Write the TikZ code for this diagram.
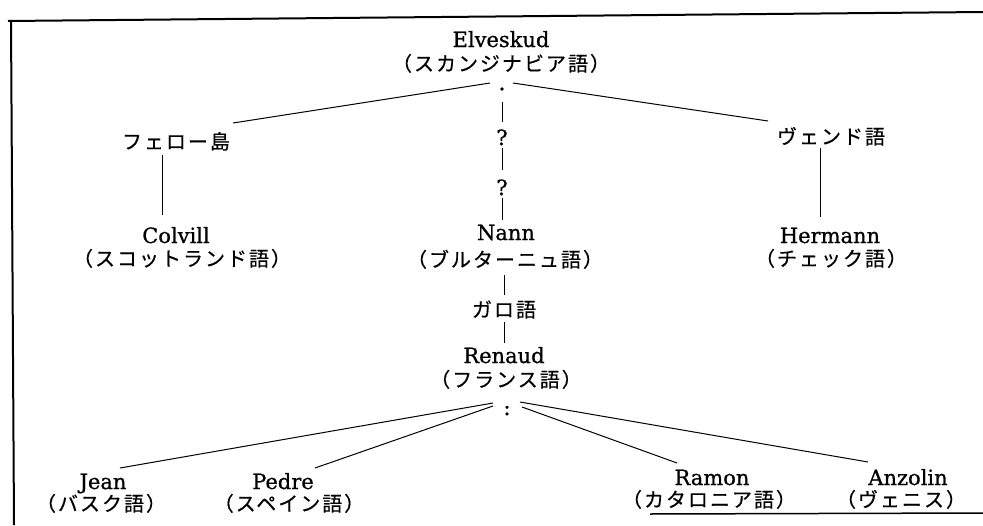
\documentclass[tikz,border=0pt]{standalone}
\usepackage{fontspec}
\newfontfamily\jp{Noto Sans CJK JP}[LetterSpace=10,FakeBold=0.5]
\newfontfamily\nm{DejaVu Serif}[FakeBold=0.8]
\usetikzlibrary{calc}
\begin{document}
\begin{tikzpicture}[x=1pt,y=-1pt,
  namelabel/.style={font=\nm\fontsize{21}{24}\selectfont, inner sep=0pt, anchor=base},
  langlabel/.style={font=\jp\fontsize{20}{24}\selectfont, inner sep=0pt, anchor=base},
  dotmark/.style={circle, fill, inner sep=0pt, minimum size=3.6pt},
  linkline/.style={line width=1pt},
  borderline/.style={line width=2pt}]
\useasboundingbox (0,0) rectangle (983,525);

% page frame (top and left rules, short rule at bottom right)
\draw[borderline] (8,21) -- (983,12);
\draw[borderline] (11,20) -- (14,525);
\draw[line width=1.5pt] (650,514) -- (983,513);

% labels
\node[namelabel] (elv) at (501,47) {Elveskud};
\node[langlabel] (elvL) at (501,71) {（スカンジナビア語）};
\node[dotmark] (dot) at (502,89) {};
\node[namelabel] (q1) at (502,145) {?};
\node[namelabel] (q2) at (502,195) {?};
\node[langlabel] (fero) at (176,149) {フェロー島};
\node[langlabel] (wend) at (831,144) {ヴェンド語};
\node[namelabel] (col) at (176,243) {Colvill};
\node[langlabel] (colL) at (182,266) {（スコットランド語）};
\node[namelabel] (nann) at (506,240) {Nann};
\node[langlabel] (nannL) at (505,267) {（ブルターニュ語）};
\node[namelabel] (her) at (830,243) {Hermann};
\node[langlabel] (herL) at (831,266) {（チェック語）};
\node[langlabel] (garo) at (504,317) {ガロ語};
\node[namelabel] (ren) at (504,363) {Renaud};
\node[langlabel] (renL) at (506,387) {（フランス語）};
\node[namelabel] (colon) at (507,415) {:};
\node[namelabel] (jean) at (103,489) {Jean};
\node[langlabel] (jeanL) at (101,511) {（バスク語）};
\node[namelabel] (ped) at (283,489) {Pedre};
\node[langlabel] (pedL) at (289,511) {（スペイン語）};
\node[namelabel] (ram) at (712,485) {Ramon};
\node[langlabel] (ramL) at (709,507) {（カタロニア語）};
\node[namelabel] (anz) at (908,485) {Anzolin};
\node[langlabel] (anzL) at (901,507) {（ヴェニス）};

% connectors
\draw[linkline] ($(dot)+(-12,-6)$) -- ($(fero.base)+(57,-26)$);
\draw[linkline] ($(dot)+(11,-6)$) -- ($(wend.base)+(-63,-23)$);
\draw[linkline] ($(dot)+(0,13)$) -- ($(q1.base)+(0,-23)$);
\draw[linkline] ($(q1.base)+(0,3)$) -- ($(q2.base)+(0,-25)$);
\draw[linkline] ($(q2.base)+(0,3)$) -- ($(nann.base)+(-4,-20)$);
\draw[linkline] ($(fero.base)+(-14,6)$) -- ($(col.base)+(-14,-28)$);
\draw[linkline] ($(wend.base)+(-11,4)$) -- ($(her.base)+(-10,-26)$);
\draw[linkline] ($(nannL.base)+(-1,8)$) -- ($(garo.base)+(0,-22)$);
\draw[linkline] ($(garo.base)+(0,5)$) -- ($(ren.base)+(0,-20)$);
\draw[linkline] ($(colon.base)+(-14,-12)$) -- ($(jean.base)+(17,-21)$);
\draw[linkline] ($(colon.base)+(-14,-9)$) -- ($(ped.base)+(32,-21)$);
\draw[linkline] ($(colon.base)+(15,-8)$) -- ($(ram.base)+(-35,-22)$);
\draw[linkline] ($(colon.base)+(13,-13)$) -- ($(anz.base)+(-40,-23)$);
\end{tikzpicture}
\end{document}
